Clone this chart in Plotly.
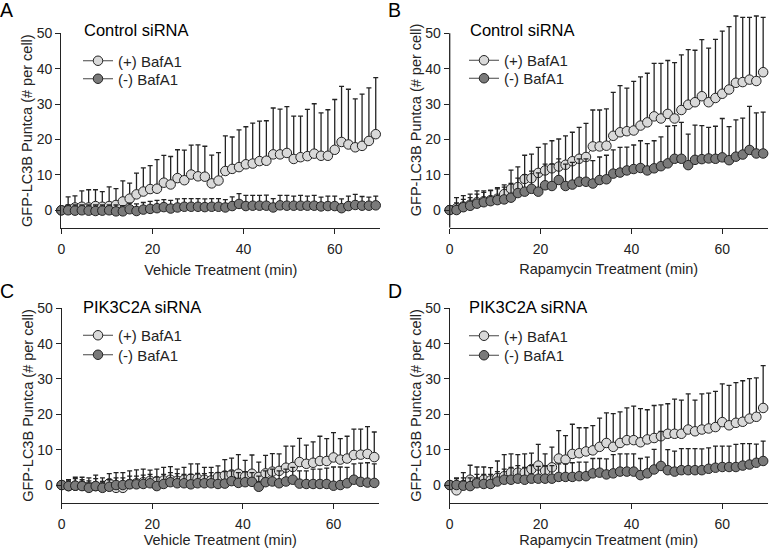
#GFP-LC3B puncta time courses, 4 panels (control vs PIK3C2A siRNA, vehicle vs rapamycin)
import numpy as np
import plotly.graph_objects as go

#%%
#time points (min), one frame every 1.5 min
time_min = [0, 1.5, 3, 4.5, 6, 7.5, 9, 10.5, 12, 13.5, 15, 16.5, 18, 19.5, 21, 22.5, 24, 25.5, 27, 28.5,
            30, 31.5, 33, 34.5, 36, 37.5, 39, 40.5, 42, 43.5, 45, 46.5, 48, 49.5, 51, 52.5, 54, 55.5, 57, 58.5,
            60, 61.5, 63, 64.5, 66, 67.5, 69]

#panel A - control siRNA, vehicle. mean and top of the (upper) error bar
a_plus = [0, 0.3, 0.8, 1, 0.8, 1.2, 1, 1.2, 1.5, 2.5, 3.3, 4.5, 5.3, 6, 6.1, 7.8, 7.3, 9.1, 8.5, 10.1,
          9.6, 9.5, 7.6, 8.4, 11.1, 11.7, 12.2, 13, 13.2, 13.9, 14, 15.8, 15.8, 16.2, 14.5, 15, 15.3, 16, 15.4, 15.4,
          17.1, 19.3, 18.6, 17.8, 18.2, 19.6, 21.5]
a_plus_hi = [0, 3.8, 4.1, 5.5, 5.8, 5.8, 5.3, 6.6, 6.1, 8.3, 7.7, 10.5, 12, 12.6, 14.3, 15.5, 15.2, 17.1, 17, 18.4,
             18.5, 18.1, 15.6, 16.3, 21, 20.7, 22.7, 23.6, 24.6, 25.2, 25.3, 28.9, 28.6, 29.3, 26.6, 26.6, 28.5, 30.1, 27.5, 28.4,
             31.3, 35, 34.2, 31.5, 32.8, 34.6, 37.5]
a_minus = [0, 0, -0.1, 0, -0.1, -0.2, -0.1, 0, -0.3, -0.3, 0.3, -0.2, 0.2, 0.4, 0.6, 0.9, 0.5, 0.8, 1, 1,
           1, 0.9, 1, 1, 0.8, 1.2, 1.8, 1.2, 1.3, 1.3, 1.3, 0.8, 1.4, 1.3, 1.3, 1.3, 1.3, 1.3, 1.1, 1.2,
           1.2, 0.6, 1.2, 1.5, 1.3, 1.3, 1.4]
a_minus_hi = [0, 1.5, 1.5, 1.5, 1.5, 1.5, 1.5, 1.5, 1.5, 1.3, 2, 1.8, 2.2, 2.5, 2.8, 3, 2.8, 3.2, 3.3, 3.3,
              3.3, 3.2, 3.3, 3.3, 3, 3.8, 4.7, 4.2, 4.2, 4.2, 4.3, 3.3, 4.2, 4.2, 4, 4.2, 4, 4.2, 3.7, 4,
              4, 3.2, 4, 4.5, 3.9, 3.7, 4]

#panel B - control siRNA, rapamycin
b_plus = [0, 0.5, 1, 1.5, 2.2, 2.5, 2.8, 3.2, 4.5, 6, 6.5, 8.8, 9, 10.5, 11.2, 11.8, 12.3, 12.8, 13.8, 14.5,
          15, 18, 18, 18.2, 21, 22, 22.3, 22.5, 23.9, 24.8, 26.5, 25.9, 27.2, 25.9, 28.3, 29.8, 30.5, 32.2, 30.5, 31.7,
          32.9, 34.1, 36, 36.2, 36.9, 36.5, 39]
b_plus_hi = [0, 3.5, 4.1, 4.5, 5.4, 5.4, 5.6, 6.3, 7.1, 11.3, 12.2, 15.5, 15.8, 17.7, 18.7, 19.6, 20.1, 21, 22, 23.4,
             24.5, 28.3, 28.3, 28.6, 33.3, 35.2, 34.5, 36.4, 37.7, 38.7, 41.5, 41.5, 42.3, 41.7, 43.9, 45.4, 45.2, 48.2, 45.8, 48.3,
             50.6, 51.9, 54.9, 54.5, 54.5, 54.9, 54.5]
b_minus = [0, 0, 0.8, 1.2, 1.8, 2.2, 2.5, 2.8, 3, 3.5, 4.8, 5.2, 6, 5.2, 7, 6.8, 8.5, 6.8, 7.2, 8,
           8, 7.5, 8.5, 8.7, 10.3, 10.6, 11.2, 11.6, 11.9, 11.2, 11.8, 12.4, 13.2, 14.5, 14.5, 12.7, 14.2, 14.4, 14.6, 14.5,
           14.9, 14.1, 15.1, 15.7, 17, 16, 16]
b_minus_hi = [0, 2, 3, 3.5, 4.5, 5, 5.5, 6, 6.5, 7.5, 9, 10, 11, 10.5, 13, 13, 14.5, 13, 13.5, 14.5,
              14.5, 14, 15, 15.5, 17, 17.7, 17.8, 18.4, 19.6, 18.8, 19.6, 20.7, 23.7, 23.9, 24.8, 21.5, 24, 23.9, 23.4, 23.7,
              25.9, 23.6, 25.5, 26, 29.3, 27.5, 27.7]

#panel C - PIK3C2A siRNA, vehicle
c_plus = [0, -0.3, -0.2, -0.2, -0.5, -0.3, -0.5, 0.5, -0.8, -0.8, 0.3, 0.5, 0.8, 1.2, 1, 1.3, 1.5, 1.2, 1.5, 1.8,
          1.8, 1.5, 1.3, 2.3, 2.7, 3, 3.2, 2.4, 3.2, 2.3, 3.3, 3.8, 4, 4.9, 5.1, 6.5, 6, 6.3, 6.8, 6.8,
          7.8, 7.2, 7.5, 8.5, 8.6, 8.8, 7.9]
c_plus_hi = [0, 1.5, 2.2, 2.2, 2, 2.8, 2, 3.2, 3.5, 3.5, 4, 4.3, 4.5, 4.2, 4.5, 5, 5.2, 4.5, 5, 6,
             6, 5, 5, 5.4, 7.2, 7.6, 8.6, 7, 8.5, 6.5, 8.4, 8.9, 8.8, 11, 11, 13.2, 11.3, 12.2, 13.8, 13.1,
             14.8, 13.1, 13.8, 15.8, 15.8, 16.5, 15]
c_minus = [0, -0.3, -0.2, -0.3, -0.8, -0.3, -0.8, -0.5, 0, 0, 0.2, 0.2, 0.3, 0.5, -0.3, 0.3, 0.8, 0.5, 0.5, 0.2,
           0.5, 0.5, 0.5, 0.3, 0.4, 1.1, 0.6, 0.8, 0.9, -0.5, 0.8, 1, 0.5, 1, 1.5, 0.4, 0.3, 0.3, 0.3, 0.3,
           -0.2, 0, 0.5, 1.5, 0.9, 0.7, 0.6]
c_minus_hi = [0, 1.2, 1.8, 1.5, 1.2, 1.8, 1, 1.5, 2, 2, 2.5, 2.5, 2.8, 3, 2.3, 3, 3.5, 3.2, 3, 3,
              3.3, 3.2, 3.5, 3.5, 3.8, 4, 3.5, 3.8, 3.5, 2.5, 4, 4.5, 4, 4.5, 5, 4, 4, 4.5, 4.5, 4.8,
              5.1, 5.1, 5, 6, 6.2, 6.3, 6]

#panel D - PIK3C2A siRNA, rapamycin
d_plus = [0, -1.5, 0, 1.5, 0.8, 1.5, 1.3, 2, 2.5, 3.5, 3.5, 3.5, 4.5, 5.5, 4, 5, 7.5, 7.2, 8.8, 9,
          9.5, 9.8, 10.8, 11.9, 10.8, 11.9, 12.7, 12.7, 12.1, 12.9, 13.3, 13.8, 14.5, 14.5, 14.5, 15.7, 15.2, 15.7, 16, 16.4,
          17.8, 16.9, 17.6, 17.9, 18.8, 19.3, 21.8]
d_plus_hi = [0, 1.8, 3.5, 5.6, 5.1, 5.1, 4.9, 6.8, 8.6, 8.8, 8.6, 8.8, 9, 11.5, 8.8, 10.7, 15.4, 14, 17.2, 16.2,
             16.2, 16.8, 18.9, 20.4, 20.2, 20.7, 21.8, 22.3, 21.6, 21.3, 22.5, 22.7, 23, 24.3, 24, 25.8, 24, 25.8, 26, 26.5,
             28.6, 28.2, 29, 29.5, 30.1, 30.3, 33.8]
d_minus = [0, 0, -0.2, -0.3, 0.5, 0.3, 0.3, 1, 1.5, 1.5, 1.8, 1.5, 1.8, 1.8, 1.8, 1.8, 2.3, 2.3, 2.3, 2.5,
           2.5, 3.3, 3.5, 3, 3.3, 3.8, 3.8, 3.8, 2.8, 3.3, 4.4, 5.4, 4.2, 3.8, 4.2, 4.2, 4.2, 4.2, 4.6, 4.9,
           5.1, 5.1, 5.1, 5.5, 5.8, 6.3, 6.8]
d_minus_hi = [0, 2, 2, 2, 3, 3, 3, 3.8, 4.5, 5, 5.5, 5, 5.5, 5.3, 5.5, 5.5, 6, 6, 6.3, 6.5,
              6.5, 7.5, 7.5, 7.4, 8.6, 8.8, 8.8, 8.8, 7.5, 7.9, 10.1, 15.2, 10, 9.6, 10.3, 10.3, 10.3, 10.2, 10.5, 11,
              11, 11, 11.5, 11.7, 11.7, 11.6, 12.4]

panel_letters = ['A', 'B', 'C', 'D']
panel_titles = ['Control siRNA', 'Control siRNA', 'PIK3C2A siRNA', 'PIK3C2A siRNA']
x_titles = ['Vehicle Treatment (min)', 'Rapamycin Treatment (min)', 'Vehicle Treatment (min)', 'Rapamycin Treatment (min)']
y_title = 'GFP-LC3B Puntca (# per cell)'
series_names = ['(+) BafA1', '(-) BafA1']
x_ticks = [0, 20, 40, 60]
y_ticks = [0, 10, 20, 30, 40, 50]

#%%
W, H = 769, 548
FONT = 'Liberation Sans, Arial, Helvetica, sans-serif'
LIGHT = 'rgb(217,217,217)'
DARK = 'rgb(122,122,122)'
INK = 'rgb(35,35,35)'

def px_x(v):
    return v / W

def px_y(v):
    return 1 - v / H

#pixel boxes of each panel: left, right, bottom (y=-5), top (top of range)
panels = [
    dict(l=61.3, r=380.3, b=228.0, t=33.3, yr=[-5, 50]),
    dict(l=449.7, r=767.7, b=227.7, t=12.1, yr=[-5, 56]),
    dict(l=61.7, r=378.8, b=502.7, t=308.3, yr=[-5, 50]),
    dict(l=449.7, r=767.7, b=502.7, t=308.3, yr=[-5, 50]),
]
data = [
    (a_plus, a_plus_hi, a_minus, a_minus_hi),
    (b_plus, b_plus_hi, b_minus, b_minus_hi),
    (c_plus, c_plus_hi, c_minus, c_minus_hi),
    (d_plus, d_plus_hi, d_minus, d_minus_hi),
]
#legend left edge and centre of each legend row (px)
legend_x = [78, 464, 78, 464]
legend_rows = [(61, 79), (60.5, 78.5), (335.5, 355), (336, 355.5)]
title_pos = [(82, 30), (468, 30), (81, 306.5), (467, 306.5)]
letter_pos = [(-2, 10), (386, 10), (-2, 291), (386, 291)]

fig = go.Figure()
layout = dict(width=W, height=H, margin=dict(l=0, r=0, t=0, b=0, autoexpand=False),
              plot_bgcolor='white', paper_bgcolor='white',
              font=dict(family=FONT, size=14, color=INK), showlegend=True)
annotations = []
shapes = []

for i, p in enumerate(panels):
    n = '' if i == 0 else str(i + 1)
    xa, ya = 'x' + n, 'y' + n
    plus, plus_hi, minus, minus_hi = data[i]
    series = [(plus, plus_hi, series_names[0], LIGHT), (minus, minus_hi, series_names[1], DARK)]
    for k, (vals, hi, name, col) in enumerate(series):
        #one legend per row so the rows can sit as close as in the original
        li = 2 * i + k + 1
        leg = 'legend' if li == 1 else 'legend' + str(li)
        err = np.array(hi) - np.array(vals)
        fig.add_trace(go.Scatter(
            x=time_min, y=vals, name=name, mode='lines+markers', xaxis=xa, yaxis=ya, legend=leg,
            line=dict(color='rgb(70,70,70)', width=1),
            marker=dict(size=9.5, color=col, line=dict(color=INK, width=1)),
            error_y=dict(type='data', array=err, arrayminus=np.zeros(len(err)), symmetric=False,
                         color=INK, thickness=1.3, width=2.5),
            cliponaxis=False))
        layout[leg] = dict(x=px_x(legend_x[i]), y=px_y(legend_rows[i][k]), xanchor='left', yanchor='middle',
                           bgcolor='rgba(0,0,0,0)', font=dict(size=15, color=INK), itemwidth=30)

    common = dict(showgrid=False, zeroline=False, ticks='outside', ticklen=5, tickwidth=1.3,
                  tickcolor=INK, linecolor=INK, linewidth=1.3, automargin=False,
                  tickfont=dict(family=FONT, size=14, color=INK))
    layout['xaxis' + n] = dict(common, domain=[px_x(p['l']), px_x(p['r'])], range=[0, 70], anchor=ya,
                               showline=True, tickvals=x_ticks, ticklabelstandoff=3,
                               title=dict(text=x_titles[i], font=dict(size=14.5), standoff=8))
    layout['yaxis' + n] = dict(common, domain=[px_y(p['b']), px_y(p['t'])], range=p['yr'], anchor=xa,
                               showline=(i != 1), tickvals=y_ticks,
                               title=dict(text=y_title, font=dict(size=14.5), standoff=0))
    if i == 1:
        #axis line only up to 50, error bars go above it
        shapes.append(dict(type='line', xref=xa + ' domain', yref=ya, x0=0, x1=0, y0=-5, y1=50,
                           line=dict(color=INK, width=1.3)))

    tx, ty = title_pos[i]
    annotations.append(dict(text=panel_titles[i], x=px_x(tx), y=px_y(ty), xref='paper', yref='paper',
                            xanchor='left', yanchor='middle', showarrow=False, font=dict(size=16.5, color='black')))
    gx, gy = letter_pos[i]
    annotations.append(dict(text=panel_letters[i], x=px_x(gx), y=px_y(gy), xref='paper', yref='paper',
                            xanchor='left', yanchor='middle', showarrow=False, font=dict(size=19.5, color='black')))

layout['annotations'] = annotations
layout['shapes'] = shapes
fig.update_layout(**layout)

#page body has a default 8px margin, drop it so the figure fills the window
fig.write_html("out.html", config={'displayModeBar': False},
               post_script="document.body.style.margin='0';")
